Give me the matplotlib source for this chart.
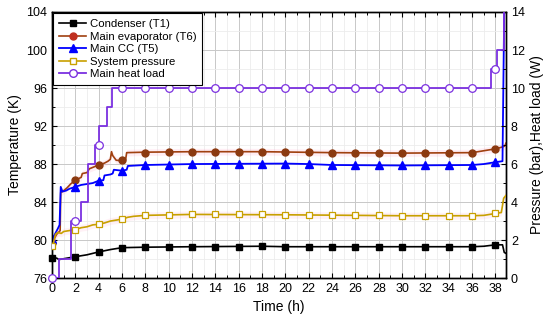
import matplotlib
matplotlib.use("Agg")
import matplotlib.pyplot as plt
from matplotlib.lines import Line2D
from matplotlib.ticker import MultipleLocator
import numpy as np

plt.rcParams['font.family'] = ['Liberation Sans', 'DejaVu Sans']

# ---- data ----
marker_t = [0, 2, 4, 6, 8, 10, 12, 14, 16, 18, 20, 22, 24, 26, 28, 30, 32, 34, 36, 38]

cond_mk = [78.15, 78.25, 78.75, 79.2, 79.25, 79.3, 79.3, 79.3, 79.3, 79.35,
           79.3, 79.3, 79.3, 79.3, 79.3, 79.3, 79.3, 79.3, 79.3, 79.5]
cond_t = [0, 0.4, 0.6, 2, 3, 4, 5, 6, 8, 12, 18, 20, 30, 36, 37, 38, 38.6, 38.75, 38.9]
cond_v = [78.15, 78.1, 77.95, 78.25, 78.45, 78.75, 79.0, 79.2, 79.25, 79.3, 79.35,
          79.3, 79.3, 79.3, 79.35, 79.5, 79.5, 78.7, 78.6]

evap_mk = [79.7, 86.3, 87.9, 88.4, 89.2, 89.3, 89.3, 89.3, 89.3, 89.3,
           89.3, 89.25, 89.2, 89.2, 89.15, 89.15, 89.15, 89.15, 89.2, 89.6]
evap_t = [0, 0.4, 0.7, 0.75, 1.0, 1.3, 1.6, 2.0, 2.5, 2.6, 3.0, 3.2, 3.6, 4.0, 4.5,
          4.8, 5.0, 5.1, 5.2, 5.5, 6.0, 6.3, 6.4, 8, 12, 18, 24, 30, 36, 37, 38,
          38.6, 38.8, 38.9]
evap_v = [79.7, 80.6, 81.0, 85.0, 85.2, 85.5, 85.9, 86.3, 86.6, 87.0, 87.1, 87.5,
          87.7, 87.9, 88.1, 88.3, 88.5, 89.3, 88.9, 88.4, 88.35, 88.4, 89.2, 89.25,
          89.3, 89.3, 89.2, 89.15, 89.2, 89.4, 89.6, 89.8, 89.9, 90.2]

cc_mk = [80.1, 85.6, 86.25, 87.3, 87.9, 87.95, 88.0, 88.05, 88.05, 88.05,
         88.05, 88.0, 87.9, 87.95, 87.9, 87.85, 87.9, 87.85, 87.9, 88.2]
cc_t = [0, 0.2, 0.5, 0.65, 0.75, 0.9, 1.2, 1.5, 2.0, 2.5, 3.0, 3.5, 4.0, 4.4, 4.5,
        5.0, 5.2, 5.3, 6.0, 6.4, 6.5, 8, 12, 20, 22, 24, 30, 36, 37, 37.5, 38,
        38.6, 38.75, 38.8]
cc_v = [80.1, 80.5, 81.2, 81.6, 85.6, 85.1, 85.2, 85.4, 85.6, 85.8, 85.9, 86.0,
        86.25, 86.3, 86.8, 86.9, 87.0, 87.4, 87.3, 87.4, 87.8, 87.9, 88.0, 88.05,
        88.0, 87.9, 87.85, 87.9, 88.0, 88.1, 88.2, 88.3, 104.5, 104.5]

pres_mk = [1.7, 2.55, 2.83, 3.1, 3.3, 3.32, 3.35, 3.35, 3.35, 3.35,
           3.33, 3.32, 3.3, 3.3, 3.3, 3.28, 3.28, 3.28, 3.28, 3.4]
pres_t = [0, 0.15, 0.3, 0.5, 0.8, 1.0, 1.5, 2, 2.5, 3, 3.5, 4, 4.5, 5, 5.5, 6, 6.5,
          7, 8, 12, 20, 30, 36, 37, 38, 38.5, 38.7, 38.9]
pres_v = [1.7, 1.9, 2.3, 2.4, 2.35, 2.45, 2.5, 2.55, 2.65, 2.7, 2.8, 2.83, 2.9, 3.0,
          3.05, 3.1, 3.2, 3.25, 3.3, 3.35, 3.33, 3.28, 3.28, 3.3, 3.4, 3.45, 4.2, 4.35]

heat_mk = [0, 3, 7, 10, 10, 10, 10, 10, 10, 10,
           10, 10, 10, 10, 10, 10, 10, 10, 10, 11]
heat_t = [0, 0.57, 1.66, 2.5, 3.1, 3.7, 4.05, 4.7, 5.1, 37.6, 38.1, 38.75, 38.9]
heat_v = [0, 1, 3, 4, 6, 7, 8, 9, 10, 11, 12, 15, 15]

labels = ["Condenser (T1)", "Main evaporator (T6)", "Main CC (T5)",
          "System pressure", "Main heat load"]

# ---- figure ----
fig = plt.figure(figsize=(5.5, 3.2), dpi=100)
ax = fig.add_axes([0.0945, 0.131, 0.8255, 0.8315])
ax2 = ax.twinx()

c_cond = 'black'
c_evap_line = '#A0400F'
c_evap_mk = '#8B3A10'
c_cc = '#0000FF'
c_pres = '#C8A000'
c_heat = '#7B30E0'

# faint pink bands
ax.fill_between(evap_t, np.array(evap_v) - 0.35, np.array(evap_v) + 0.35,
                color='#ff7fb0', alpha=0.13, lw=0, zorder=1)
ax2.fill_between(pres_t, np.array(pres_v) - 0.18, np.array(pres_v) + 0.18,
                 color='#ff7fb0', alpha=0.10, lw=0, zorder=1)

ax.plot(cond_t, cond_v, color=c_cond, lw=1.2, zorder=3)
ax.plot(marker_t, cond_mk, ls='none', marker='s', ms=4.5, color=c_cond, zorder=4,
        clip_on=False)
ax.plot(evap_t, evap_v, color=c_evap_line, lw=1.2, zorder=3)
ax.plot(marker_t, evap_mk, ls='none', marker='o', ms=5, color=c_evap_mk, zorder=4)
ax.plot(cc_t, cc_v, color=c_cc, lw=1.3, zorder=3)
ax.plot(marker_t, cc_mk, ls='none', marker='^', ms=5.5, color=c_cc, zorder=4)

ax2.plot(pres_t, pres_v, color=c_pres, lw=1.2, zorder=3)
ax2.plot(marker_t, pres_mk, ls='none', marker='s', ms=5, mfc='white', mec=c_pres,
         mew=0.9, zorder=4)
ax2.plot(heat_t, heat_v, color=c_heat, lw=1.3, drawstyle='steps-post', zorder=3)
ax2.plot(marker_t, heat_mk, ls='none', marker='o', ms=5.5, mfc='white', mec=c_heat,
         mew=0.9, zorder=4, clip_on=False)

ax.set_xlim(0, 38.9)
ax.set_ylim(76, 104)
ax2.set_ylim(0, 14)

ax.xaxis.set_major_locator(MultipleLocator(2))
ax.xaxis.set_minor_locator(MultipleLocator(1))
ax.yaxis.set_major_locator(MultipleLocator(4))
ax.yaxis.set_minor_locator(MultipleLocator(2))
ax2.yaxis.set_major_locator(MultipleLocator(2))
ax2.yaxis.set_minor_locator(MultipleLocator(1))

ax.grid(which='major', color='#c8c8c8', lw=0.7, zorder=0)
ax.grid(which='minor', color='#ececec', lw=0.6, zorder=0)
ax.set_axisbelow(True)

ax.tick_params(axis='x', which='both', direction='in', top=True, labelsize=9)
ax.tick_params(axis='y', which='both', direction='in', labelsize=9)
ax.tick_params(which='major', length=3.5, width=0.8)
ax.tick_params(which='minor', length=2, width=0.7)
ax2.tick_params(axis='y', which='both', direction='in', labelsize=9)
ax2.tick_params(which='major', length=3.5, width=0.8)
ax2.tick_params(which='minor', length=2, width=0.7)

for a in (ax, ax2):
    for s in a.spines.values():
        s.set_linewidth(1.0)
        s.set_color('black')

ax.set_xlabel("Time (h)", fontsize=10)
ax.set_ylabel("Temperature (K)", fontsize=10, labelpad=3)
ax2.set_ylabel("Pressure (bar),Heat load (W)", fontsize=10, labelpad=4)

handles = [
    Line2D([], [], color=c_cond, lw=1.2, marker='s', ms=4.5),
    Line2D([], [], color=c_evap_line, lw=1.2, marker='o', ms=5, mfc='#C03020',
           mec='#C03020'),
    Line2D([], [], color=c_cc, lw=1.3, marker='^', ms=5.5),
    Line2D([], [], color=c_pres, lw=1.2, marker='s', ms=5, mfc='white', mec=c_pres),
    Line2D([], [], color=c_heat, lw=1.3, marker='o', ms=5.5, mfc='white', mec=c_heat),
]
leg = ax2.legend(handles, labels, loc='upper left', bbox_to_anchor=(0.0, 1.0),
                 fontsize=8.2, frameon=True, fancybox=False, edgecolor='black',
                 framealpha=1, handlelength=2.4, handletextpad=0.3,
                 labelspacing=0.22, borderpad=0.5, borderaxespad=0.12)
leg.get_frame().set_linewidth(0.8)
leg.set_zorder(10)

fig.savefig("out.png", dpi=100)
